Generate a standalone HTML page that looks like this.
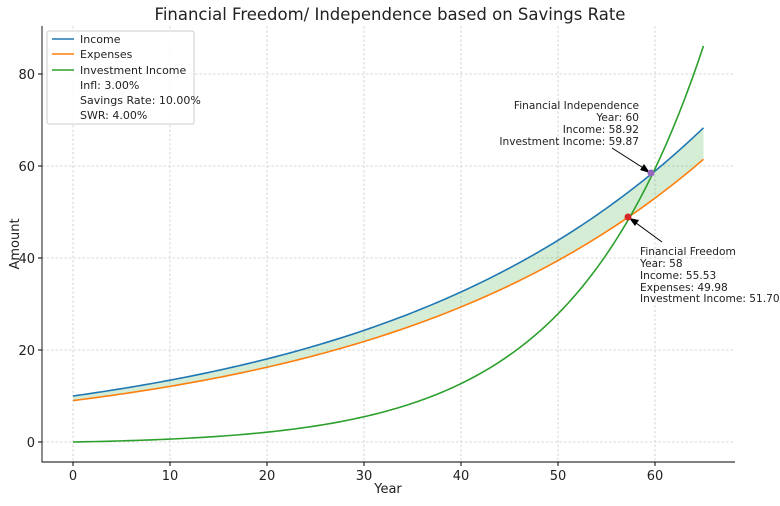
<!DOCTYPE html>
<html><head><meta charset="utf-8"><style>
body{margin:0;background:#fff;}
svg{font-family:"DejaVu Sans","Liberation Sans",sans-serif;}
</style></head><body>
<svg id="s" width="780" height="501" xmlns="http://www.w3.org/2000/svg">
<rect width="780" height="501" fill="#fff"/>
<g id="grid" stroke="#cccccc" stroke-width="0.8" stroke-dasharray="2.5,2"></g>
<path id="fill" fill="#2ca02c" fill-opacity="0.2" stroke="none"/>
<path id="inc" fill="none" stroke="#1f77b4" stroke-width="1.6"/>
<path id="exp" fill="none" stroke="#ff7f0e" stroke-width="1.6"/>
<path id="inv" fill="none" stroke="#2ca02c" stroke-width="1.6"/>
<path d="M42,26V462H735" fill="none" stroke="#000" stroke-width="0.9"/>
<g id="ticks" font-size="13" fill="#222"></g>
<text x="390" y="20" text-anchor="middle" font-size="16.5" fill="#222">Financial Freedom/ Independence based on Savings Rate</text>
<text x="388" y="493" text-anchor="middle" font-size="13" fill="#222">Year</text>
<text x="19" y="244" text-anchor="middle" font-size="13" fill="#222" transform="rotate(-90 19 244)">Amount</text>
<g font-size="11" fill="#222">
<rect x="47" y="31" width="147" height="93" fill="#fff" fill-opacity="0.85" stroke="#ccc" rx="2"/>
<line x1="52" y1="39" x2="74" y2="39" stroke="#1f77b4" stroke-width="1.6"/><text x="80" y="43">Income</text>
<line x1="52" y1="54" x2="74" y2="54" stroke="#ff7f0e" stroke-width="1.6"/><text x="80" y="58">Expenses</text>
<line x1="52" y1="70" x2="74" y2="70" stroke="#2ca02c" stroke-width="1.6"/><text x="80" y="74">Investment Income</text>
<text x="80" y="89">Infl: 3.00%</text>
<text x="80" y="104">Savings Rate: 10.00%</text>
<text x="80" y="119">SWR: 4.00%</text>
</g>
<g font-size="10.6" fill="#222">
<text x="639" y="109" text-anchor="end">Financial Independence</text>
<text x="639" y="121" text-anchor="end">Year: 60</text>
<text x="639" y="133" text-anchor="end">Income: 58.92</text>
<text x="639" y="145" text-anchor="end">Investment Income: 59.87</text>
<text x="640" y="255">Financial Freedom</text>
<text x="640" y="267">Year: 58</text>
<text x="640" y="279">Income: 55.53</text>
<text x="640" y="291">Expenses: 49.98</text>
<text x="640" y="302">Investment Income: 51.70</text>
</g>
<line x1="612" y1="148" x2="648" y2="171" stroke="#000" stroke-width="1"/>
<polygon points="650,173 640,170 644,164" fill="#000"/>
<line x1="662" y1="242" x2="632" y2="220" stroke="#000" stroke-width="1"/>
<polygon points="629,218 639,220 635,226" fill="#000"/>
<circle cx="651" cy="173" r="3.5" fill="#9467bd"/>
<circle cx="628" cy="217" r="3.5" fill="#d62728"/>
</svg>
<script>
(function(){
var X=function(t){return 73+t*9.7},Y=function(v){return 442-v*4.6};
var g=document.getElementById('grid'),tk=document.getElementById('ticks'),ns='http://www.w3.org/2000/svg';
function el(p,n,a,txt){var e=document.createElementNS(ns,n);for(var k in a)e.setAttribute(k,a[k]);if(txt!=null)e.textContent=txt;p.appendChild(e);}
for(var t=0;t<=60;t+=10){el(g,'line',{x1:X(t),x2:X(t),y1:26,y2:462});el(tk,'line',{x1:X(t),x2:X(t),y1:462,y2:466,stroke:'#000'});el(tk,'text',{x:X(t),y:480,'text-anchor':'middle'},t);}
for(var v=0;v<=80;v+=20){el(g,'line',{x1:42,x2:735,y1:Y(v),y2:Y(v)});el(tk,'line',{x1:38,x2:42,y1:Y(v),y2:Y(v),stroke:'#000'});el(tk,'text',{x:35,y:Y(v)+5,'text-anchor':'end'},v);}
var a='',b='',c='',r=0.0735,up=[],dn=[];
for(var i=0;i<=130;i++){var t=i/2;var inc=10*Math.pow(1.03,t),ex=0.9*inc,iv=0.04*(Math.pow(1+r,t)-Math.pow(1.03,t))/(r-0.03);
var s=i?'L':'M';a+=s+X(t)+','+Y(inc);b+=s+X(t)+','+Y(ex);c+=s+X(t)+','+Y(iv);up.push(X(t)+','+Y(inc));dn.push(X(t)+','+Y(ex));}
document.getElementById('inc').setAttribute('d',a);document.getElementById('exp').setAttribute('d',b);document.getElementById('inv').setAttribute('d',c);
document.getElementById('fill').setAttribute('d','M'+up.join('L')+'L'+dn.reverse().join('L')+'Z');
})();
</script>
</body></html>
